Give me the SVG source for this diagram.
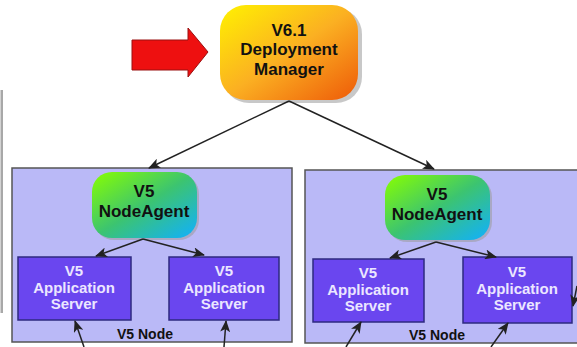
<svg xmlns="http://www.w3.org/2000/svg" width="577" height="347" viewBox="0 0 577 347">
  <defs>
    <linearGradient id="gradManager" x1="0" y1="0" x2="1" y2="1">
      <stop offset="0" stop-color="#fff200"/>
      <stop offset="0.5" stop-color="#fbb022"/>
      <stop offset="1" stop-color="#ee5a08"/>
    </linearGradient>
    <linearGradient id="gradAgent" x1="0" y1="0" x2="1" y2="1">
      <stop offset="0" stop-color="#88ff00"/>
      <stop offset="0.5" stop-color="#3cc470"/>
      <stop offset="1" stop-color="#10b0ff"/>
    </linearGradient>
    <marker id="arrow" viewBox="0 0 12 10" refX="11" refY="5" markerWidth="12" markerHeight="10" markerUnits="userSpaceOnUse" orient="auto">
      <path d="M0,0 L12,5 L0,10 L3,5 Z" fill="#222"/>
    </marker>
    <style>
      .node-box { fill: #bab9f7; stroke: #555; stroke-width: 1.5; }
      .server { fill: #6a46ef; stroke: #2e2a80; stroke-width: 1.5; }
      .server-text { font-family: "Liberation Sans", Arial, sans-serif; font-weight: bold; font-size: 15px; fill: #ece6ff; text-anchor: middle; }
      .label { font-family: "Liberation Sans", Arial, sans-serif; font-weight: bold; text-anchor: middle; fill: #111; }
      .shadow { fill: #9a9a9a; opacity: 0.55; }
      .link { stroke: #222; stroke-width: 1.5; fill: none; marker-end: url(#arrow); }
    </style>
  </defs>

  <rect x="0" y="0" width="577" height="347" fill="#ffffff"/>

  <!-- edge of neighbouring panel -->
  <rect x="0.5" y="90" width="2.5" height="223" fill="#a8a8a8"/>

  <!-- red pointer arrow -->
  <g id="pointer">
    <path d="M132,40 L188,40 L188,28 L208,52 L188,77 L188,70 L132,70 Z" fill="#ee1010" stroke="#9a1010" stroke-width="1"/>
  </g>

  <!-- V6.1 Deployment Manager -->
  <g id="deployment-manager">
    <rect class="shadow" x="223" y="8" width="139" height="95" rx="26"/>
    <rect x="220" y="5" width="138" height="95" rx="26" fill="url(#gradManager)"/>
    <text class="label" font-size="17" x="289" y="36">V6.1</text>
    <text class="label" font-size="17" x="289" y="55">Deployment</text>
    <text class="label" font-size="17" x="289" y="75">Manager</text>
  </g>

  <!-- left V5 Node -->
  <g id="node-left">
    <rect class="node-box" x="12" y="168" width="280" height="174"/>
    <text class="label" font-size="14" x="145" y="339">V5 Node</text>
  </g>
  <g id="nodeagent-left">
    <rect class="shadow" x="94" y="174" width="105" height="66" rx="20"/>
    <rect x="92" y="172" width="105" height="66" rx="20" fill="url(#gradAgent)"/>
    <text class="label" font-size="17" x="144" y="197">V5</text>
    <text class="label" font-size="17" x="144" y="217">NodeAgent</text>
  </g>
  <g id="server-left-1">
    <rect class="server" x="18" y="257" width="113" height="63"/>
    <text class="server-text" x="74" y="276">V5</text>
    <text class="server-text" x="74" y="293">Application</text>
    <text class="server-text" x="74" y="309">Server</text>
  </g>
  <g id="server-left-2">
    <rect class="server" x="169" y="257" width="110" height="63"/>
    <text class="server-text" x="224" y="276">V5</text>
    <text class="server-text" x="224" y="293">Application</text>
    <text class="server-text" x="224" y="309">Server</text>
  </g>

  <!-- right V5 Node -->
  <g id="node-right">
    <rect class="node-box" x="305" y="170" width="280" height="173"/>
    <text class="label" font-size="14" x="437" y="340">V5 Node</text>
  </g>
  <g id="nodeagent-right">
    <rect class="shadow" x="387" y="177" width="105" height="65" rx="20"/>
    <rect x="385" y="175" width="105" height="65" rx="20" fill="url(#gradAgent)"/>
    <text class="label" font-size="17" x="437" y="200">V5</text>
    <text class="label" font-size="17" x="437" y="220">NodeAgent</text>
  </g>
  <g id="server-right-1">
    <rect class="server" x="313" y="259" width="111" height="63"/>
    <text class="server-text" x="368" y="278">V5</text>
    <text class="server-text" x="368" y="295">Application</text>
    <text class="server-text" x="368" y="311">Server</text>
  </g>
  <g id="server-right-2">
    <rect class="server" x="463" y="257" width="109" height="66"/>
    <text class="server-text" x="517" y="277">V5</text>
    <text class="server-text" x="517" y="294">Application</text>
    <text class="server-text" x="517" y="310">Server</text>
  </g>

  <!-- connectors -->
  <g id="connectors">
    <path class="link" d="M289,101 L149,168"/>
    <path class="link" d="M289,101 L434,169"/>
    <path class="link" d="M143,239 L96,256"/>
    <path class="link" d="M143,239 L204,255"/>
    <path class="link" d="M436,242 L390,258"/>
    <path class="link" d="M436,242 L496,257"/>
    <path class="link" d="M84,347 L75,321"/>
    <path class="link" d="M224,347 L226,321"/>
    <path class="link" d="M346,347 L361,322"/>
    <path class="link" d="M491,347 L508,323"/>
    <path class="link" d="M577,286 L573,306"/>
  </g>
</svg>
